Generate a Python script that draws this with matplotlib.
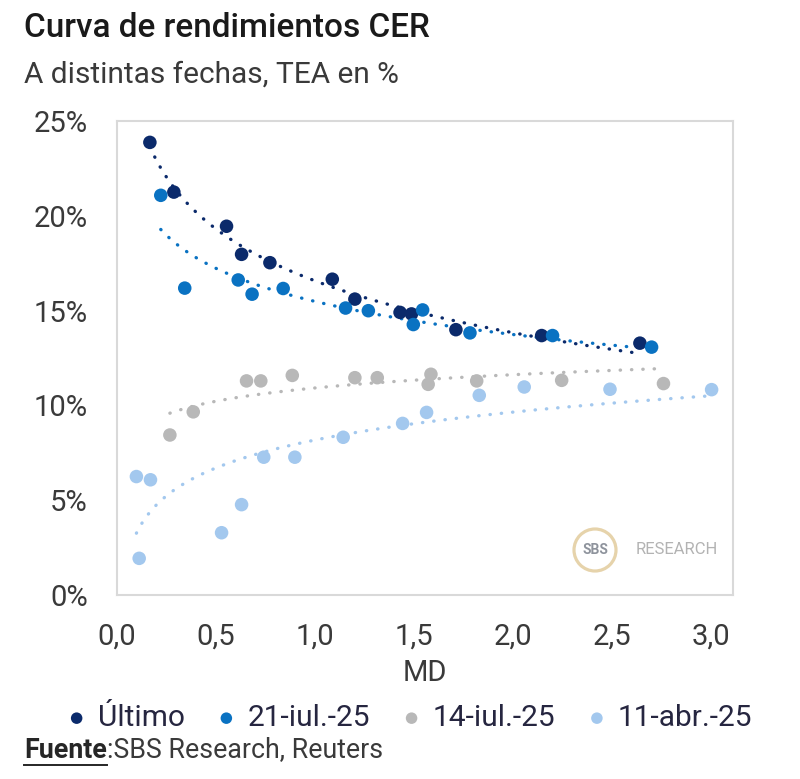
import matplotlib
matplotlib.use("Agg")
import matplotlib.pyplot as plt
from matplotlib.patches import Circle
import numpy as np

plt.rcParams['font.family'] = ['Roboto', 'DejaVu Sans']

# MD (years) and TEA (%)
ultimo_md = [0.167, 0.288, 0.554, 0.630, 0.773, 1.088, 1.202, 1.430, 1.488, 1.712, 2.145, 2.641]
ultimo_tea = [23.86, 21.24, 19.44, 17.96, 17.52, 16.65, 15.60, 14.90, 14.82, 13.99, 13.68, 13.28]

jul21_md = [0.222, 0.343, 0.613, 0.683, 0.840, 1.155, 1.270, 1.497, 1.544, 1.783, 2.200, 2.700]
jul21_tea = [21.07, 16.18, 16.61, 15.86, 16.16, 15.13, 14.99, 14.26, 15.03, 13.82, 13.68, 13.07]

jul14_md = [0.268, 0.386, 0.655, 0.727, 0.886, 1.202, 1.315, 1.572, 1.586, 1.817, 2.246, 2.760]
jul14_tea = [8.44, 9.66, 11.29, 11.29, 11.58, 11.46, 11.46, 11.11, 11.64, 11.29, 11.32, 11.15]

abr11_md = [0.099, 0.113, 0.170, 0.529, 0.630, 0.742, 0.899, 1.143, 1.443, 1.564, 1.830, 2.057, 2.490, 3.003]
abr11_tea = [6.25, 1.94, 6.08, 3.29, 4.77, 7.27, 7.27, 8.32, 9.05, 9.63, 10.53, 10.97, 10.85, 10.83]

series = [
    ('Último', ultimo_md, ultimo_tea, '#0B2A6B'),
    ('21-iul.-25', jul21_md, jul21_tea, '#0A72C2'),
    ('14-iul.-25', jul14_md, jul14_tea, '#B8B8B8'),
    ('11-abr.-25', abr11_md, abr11_tea, '#A3C8EE'),
]

fig = plt.figure(figsize=(8, 7.79), dpi=100)
ax = fig.add_axes([0.146, 0.236, 0.770, 0.609])

for name, md, tea, color in series:
    md = np.array(md)
    tea = np.array(tea)
    # logarithmic trendline, like the Excel one
    a, b = np.polyfit(np.log(md), tea, 1)
    xs = np.linspace(md.min(), md.max(), 200)
    ax.plot(xs, a * np.log(xs) + b, color=color, lw=2.4,
            dashes=(0.1, 3.3), dash_capstyle='round', zorder=2)
    ax.scatter(md, tea, s=95, color=color, edgecolors='none', zorder=3, label=name)

ax.set_xlim(0, 3.11)
ax.set_ylim(0, 25)
ax.set_xticks(np.arange(0, 3.01, 0.5))
ax.set_xticklabels([('%.1f' % v).replace('.', ',') for v in np.arange(0, 3.01, 0.5)])
ax.set_yticks(range(0, 26, 5))
ax.set_yticklabels(['%d%%' % v for v in range(0, 26, 5)])
ax.tick_params(length=0, labelsize=21, labelcolor='#3a3a3a')
ax.tick_params(axis='y', pad=21)
ax.tick_params(axis='x', pad=20)
for sp in ax.spines.values():
    sp.set_color('#d9d9d9')
    sp.set_linewidth(1.5)
ax.set_xlabel('MD', fontsize=21, color='#3a3a3a', labelpad=6)

# watermark
ax.add_patch(Circle((595, 779 - 550), 21, transform=None, fill=False,
                    ec='#e6d3ab', lw=2.3, zorder=1))
fig.text(595 / 800, 1 - 550 / 779, 'SBS', ha='center', va='center',
         fontsize=10, fontweight='bold', color='#8e939c')
fig.text(636 / 800, 1 - 550 / 779, 'RESEARCH', ha='left', va='center',
         fontsize=12, color='#b3b3b3')

fig.text(24 / 800, 1 - 28 / 779, 'Curva de rendimientos CER', fontsize=24,
         fontweight='medium', color='#1a1a1a', ha='left', va='center')
fig.text(24 / 800, 1 - 75 / 779, 'A distintas fechas, TEA en %', fontsize=21.5,
         color='#3a3a3a', ha='left', va='center')

fig.legend(loc='center', bbox_to_anchor=(410 / 800, 1 - 718 / 779), ncol=4,
           frameon=False, fontsize=21.5, handlelength=0.6, handletextpad=0.4,
           columnspacing=1.1, markerscale=0.85, borderaxespad=0, labelcolor='#262640')

fuente = fig.text(24 / 800, 1 - 750 / 779, 'Fuente', fontsize=19.3, fontweight='bold',
                  color='#262626', ha='left', va='center')
fig.canvas.draw()
bb = fuente.get_window_extent()
fig.add_artist(plt.Line2D([bb.x0 / 800, bb.x1 / 800], [(bb.y0 - 1) / 779, (bb.y0 - 1) / 779],
                          color='#262626', lw=1.4))
fig.text(bb.x1 / 800, 1 - 750 / 779, ':SBS Research, Reuters', fontsize=19.3,
         color='#3a3a3a', ha='left', va='center')

fig.savefig('out.png', dpi=100)
